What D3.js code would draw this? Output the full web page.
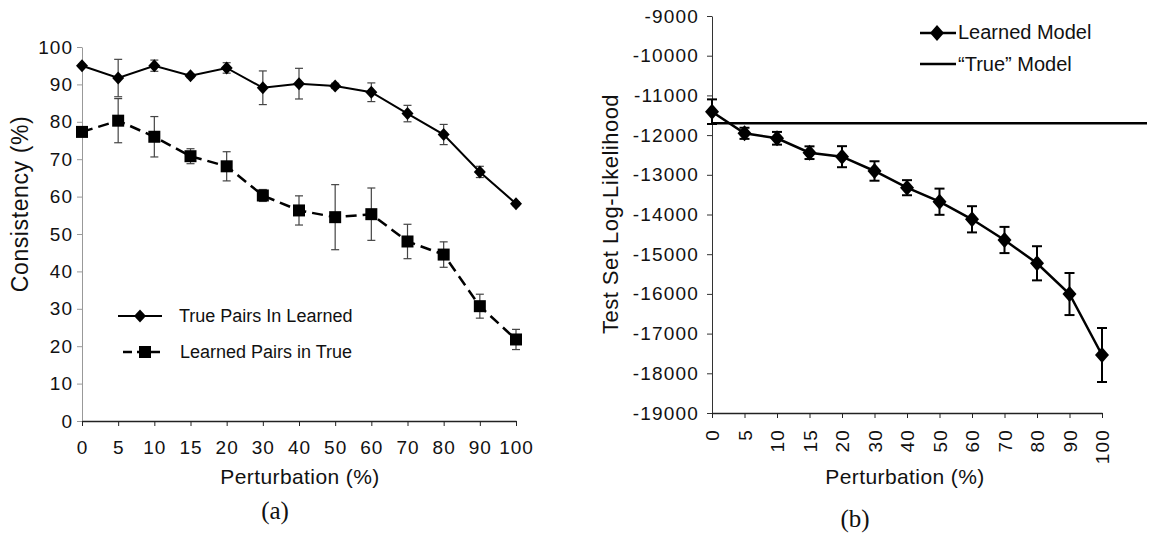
<!DOCTYPE html>
<html>
<head>
<meta charset="utf-8">
<script src="https://cdn.jsdelivr.net/npm/d3@7"></script>
<style>
  body { margin: 0; background: #fff; }
  svg { display: block; }
  text { font-family: "Liberation Sans", Arial, sans-serif; fill: #111; }
  .tick text { font-size: 19px; letter-spacing: 1px; }
  .serif { font-family: "Liberation Serif", "DejaVu Serif", serif; }
</style>
</head>
<body>
<div id="chart"></div>
<script>
const perturbation = ["0", "5", "10", "15", "20", "30", "40", "50", "60", "70", "80", "90", "100"];

// panel (a)
const truePairsInLearned = [95, 91.7, 95, 92.3, 94.4, 89.1, 90.2, 89.6, 87.9, 82.2, 76.6, 66.6, 58.1];
const truePairsErr = [0.4, 5, 1.5, 0.5, 1.4, 4.5, 4.1, 0.7, 2.5, 2.2, 2.7, 1.5, 0.5];
const learnedPairsInTrue = [77.3, 80.3, 76.0, 70.8, 68.1, 60.3, 56.3, 54.5, 55.3, 48.0, 44.5, 30.7, 21.8];
const learnedPairsErr = [0.4, 5.9, 5.4, 2, 3.9, 1.6, 3.9, 8.7, 7, 4.6, 3.4, 3.2, 2.7];
const consistencyTicks = [0, 10, 20, 30, 40, 50, 60, 70, 80, 90, 100];

// panel (b)
const learnedModelLL = [-11410, -11955, -12080, -12443, -12544, -12904, -13325, -13678, -14121, -14642, -15229, -16003, -17539];
const learnedModelErr = [310, 140, 160, 160, 265, 245, 190, 330, 330, 330, 430, 530, 680];
const trueModelLL = -11700;
const llTicks = [-19000, -18000, -17000, -16000, -15000, -14000, -13000, -12000, -11000, -10000, -9000];

const width = 1158, height = 536;
const svg = d3.select('#chart').append('svg')
    .attr('width', width)
    .attr('height', height);

function diamond(w, h) {
    return `M0,${-h}L${w},0L0,${h}L${-w},0Z`;
}

// ---------- (a) ----------
const xA = d3.scalePoint().domain(perturbation).range([82, 516]);
const yA = d3.scaleLinear().domain([0, 100]).range([421, 47]);

const gA = svg.append('g');

gA.append('g')
    .attr('transform', 'translate(82,0)')
    .call(d3.axisLeft(yA).tickValues(consistencyTicks).tickSize(5).tickSizeOuter(0).tickPadding(4))
    .call(g => g.selectAll('path, line').attr('stroke', '#999'));

gA.append('g')
    .attr('transform', 'translate(0,421)')
    .call(d3.axisBottom(xA).tickSize(5).tickSizeOuter(0).tickPadding(15))
    .call(g => g.selectAll('path, line').attr('stroke', '#222'))
    .call(g => g.select('.domain').attr('stroke-width', 1.5));

gA.selectAll('.tick text').attr('font-family', '"Liberation Sans", Arial, sans-serif');

const lineA = d3.line().x((d, i) => xA(perturbation[i])).y(d => yA(d));

function errorBars(g, values, errs, x, y, cap, stroke, sw) {
    g.append('g').selectAll('g')
        .data(values)
        .join('g')
        .each(function(d, i) {
            const cx = x(perturbation[i]);
            const t = y(d + errs[i]), b = y(d - errs[i]);
            const s = d3.select(this);
            s.append('line').attr('x1', cx).attr('x2', cx).attr('y1', t).attr('y2', b);
            s.append('line').attr('x1', cx - cap).attr('x2', cx + cap).attr('y1', t).attr('y2', t);
            s.append('line').attr('x1', cx - cap).attr('x2', cx + cap).attr('y1', b).attr('y2', b);
        })
        .attr('stroke', stroke)
        .attr('stroke-width', sw);
}

errorBars(gA, truePairsInLearned, truePairsErr, xA, yA, 4, '#444', 1.2);
errorBars(gA, learnedPairsInTrue, learnedPairsErr, xA, yA, 4, '#444', 1.2);

gA.append('path')
    .datum(truePairsInLearned)
    .attr('d', lineA)
    .attr('fill', 'none')
    .attr('stroke', '#000')
    .attr('stroke-width', 2);

gA.append('path')
    .datum(learnedPairsInTrue)
    .attr('d', lineA)
    .attr('fill', 'none')
    .attr('stroke', '#000')
    .attr('stroke-width', 2.5)
    .attr('stroke-dasharray', '11,6');

gA.selectAll('.diamondA')
    .data(truePairsInLearned)
    .join('path')
    .attr('d', diamond(6, 6.5))
    .attr('transform', (d, i) => `translate(${xA(perturbation[i])},${yA(d)})`)
    .attr('fill', '#000');

gA.selectAll('.squareA')
    .data(learnedPairsInTrue)
    .join('rect')
    .attr('x', (d, i) => xA(perturbation[i]) - 6)
    .attr('y', d => yA(d) - 6)
    .attr('width', 12)
    .attr('height', 12)
    .attr('fill', '#000');

// legend (a)
gA.append('line').attr('x1', 118).attr('x2', 162).attr('y1', 316).attr('y2', 316)
    .attr('stroke', '#000').attr('stroke-width', 2);
gA.append('path').attr('d', diamond(6, 6.5)).attr('transform', 'translate(140,316)');
gA.append('text').attr('x', 179).attr('y', 316).attr('dy', '0.35em')
    .style('font-size', '18px').text('True Pairs In Learned');

gA.append('line').attr('x1', 123).attr('x2', 160).attr('y1', 352).attr('y2', 352)
    .attr('stroke', '#000').attr('stroke-width', 2.5).attr('stroke-dasharray', '9,5');
gA.append('rect').attr('x', 139).attr('y', 346).attr('width', 12).attr('height', 12);
gA.append('text').attr('x', 180).attr('y', 352).attr('dy', '0.35em')
    .style('font-size', '18px').text('Learned Pairs in True');

gA.append('text')
    .attr('transform', 'translate(28,204) rotate(-90)')
    .attr('text-anchor', 'middle')
    .style('font-size', '23px').style('letter-spacing', '0.6px')
    .text('Consistency (%)');

gA.append('text')
    .attr('x', 300).attr('y', 484)
    .attr('text-anchor', 'middle')
    .style('font-size', '21px').style('letter-spacing', '0.4px')
    .text('Perturbation (%)');

gA.append('text')
    .attr('class', 'serif')
    .attr('x', 275).attr('y', 519)
    .attr('text-anchor', 'middle')
    .style('font-size', '25px')
    .text('(a)');

// ---------- (b) ----------
const xB = d3.scalePoint().domain(perturbation).range([712, 1102]);
const yB = d3.scaleLinear().domain([-19000, -9000]).range([413, 16]);

const gB = svg.append('g');

gB.append('g')
    .attr('transform', 'translate(712,0)')
    .call(d3.axisLeft(yB).tickValues(llTicks).tickFormat(d => String(d)).tickSize(5).tickSizeOuter(0).tickPadding(8))
    .call(g => g.selectAll('path, line').attr('stroke', '#333'));

gB.append('g')
    .attr('transform', 'translate(0,413)')
    .call(d3.axisBottom(xB).tickSize(5).tickSizeOuter(0))
    .call(g => g.selectAll('path, line').attr('stroke', '#222'))
    .call(g => g.select('.domain').attr('stroke-width', 1.5))
    .call(g => g.selectAll('.tick text')
        .attr('transform', 'rotate(-90)')
        .attr('text-anchor', 'end')
        .attr('x', -16)
        .attr('y', 0)
        .attr('dy', '0.35em'));

gB.selectAll('.tick text').attr('font-family', '"Liberation Sans", Arial, sans-serif');
gB.selectAll('.tick text').style('letter-spacing', '1.2px');

gB.append('line')
    .attr('x1', 712).attr('x2', 1147)
    .attr('y1', yB(trueModelLL)).attr('y2', yB(trueModelLL))
    .attr('stroke', '#000').attr('stroke-width', 2.5);

errorBars(gB, learnedModelLL, learnedModelErr, xB, yB, 5, '#000', 2);

const lineB = d3.line().x((d, i) => xB(perturbation[i])).y(d => yB(d));
gB.append('path')
    .datum(learnedModelLL)
    .attr('d', lineB)
    .attr('fill', 'none')
    .attr('stroke', '#000')
    .attr('stroke-width', 2.5);

gB.selectAll('.diamondB')
    .data(learnedModelLL)
    .join('path')
    .attr('d', diamond(7, 8))
    .attr('transform', (d, i) => `translate(${xB(perturbation[i])},${yB(d)})`)
    .attr('fill', '#000');

// legend (b)
gB.append('line').attr('x1', 920).attr('x2', 956).attr('y1', 33).attr('y2', 33)
    .attr('stroke', '#000').attr('stroke-width', 2.5);
gB.append('path').attr('d', diamond(7, 8)).attr('transform', 'translate(937,33)');
gB.append('text').attr('x', 958).attr('y', 32).attr('dy', '0.35em')
    .style('font-size', '20px').text('Learned Model');

gB.append('line').attr('x1', 920).attr('x2', 956).attr('y1', 64).attr('y2', 64)
    .attr('stroke', '#000').attr('stroke-width', 2.5);
gB.append('text').attr('x', 958).attr('y', 64).attr('dy', '0.35em')
    .style('font-size', '20px').text('\u201CTrue\u201D Model');

gB.append('text')
    .attr('transform', 'translate(618,214) rotate(-90)')
    .attr('text-anchor', 'middle')
    .style('font-size', '22px').style('letter-spacing', '0.5px')
    .text('Test Set Log-Likelihood');

gB.append('text')
    .attr('x', 905).attr('y', 484)
    .attr('text-anchor', 'middle')
    .style('font-size', '21px').style('letter-spacing', '0.4px')
    .text('Perturbation (%)');

gB.append('text')
    .attr('class', 'serif')
    .attr('x', 855).attr('y', 527)
    .attr('text-anchor', 'middle')
    .style('font-size', '25px')
    .text('(b)');
</script>
</body>
</html>
